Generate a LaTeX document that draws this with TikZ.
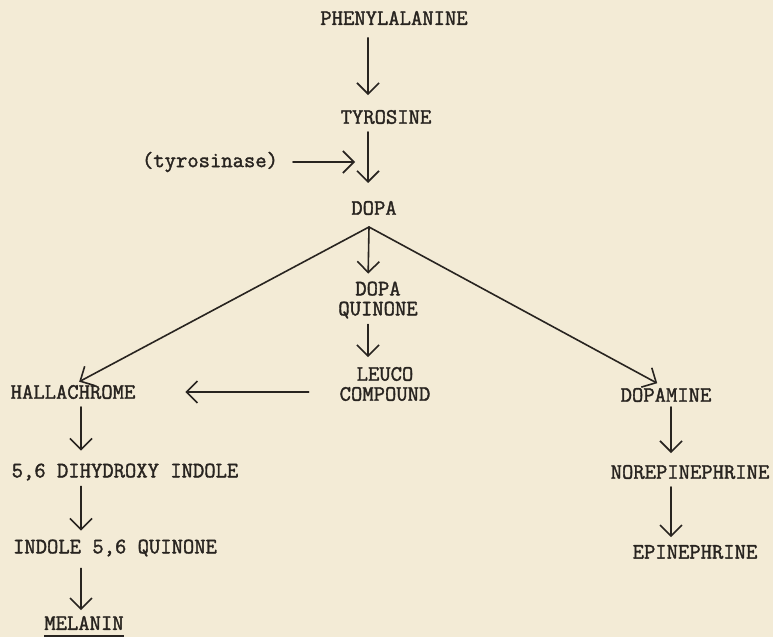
\documentclass[tikz,border=0pt]{standalone}
\usepackage{fontspec}
\usepackage{xcolor}
\usetikzlibrary{arrows.meta, positioning}
\newfontfamily\typewriter{Latin Modern Mono}[FakeBold=1.6]
\definecolor{papel}{RGB}{243, 235, 214}
\definecolor{tinta}{RGB}{40, 36, 32}
\newcommand{\typefont}{\typewriter\fontsize{22}{20}\selectfont}

\begin{document}
\begin{tikzpicture}[x=1pt, y=-1pt,
  chem/.style={font=\typefont, text=tinta, inner sep=0pt, outer sep=0pt, align=center},
  flow/.style={-{Straight Barb[length=11pt, width=22pt]}, draw=tinta, line width=1.6pt,
               line cap=round, shorten <=8pt, shorten >=10pt}]
  \fill[papel] (0,0) rectangle (773,637);
  \useasboundingbox (0,0) rectangle (773,637);

  % main chain
  \node[chem] (phe) at (394,18) {PHENYLALANINE};
  \node[chem] (tyr) at (386,117) {TYROSINE};
  \node[chem] (enz) at (210,162) {(tyrosinase)};
  \node[chem] (dopa) at (374,208) {DOPA};
  \node[chem] (dq) at (378,300) {DOPA\\QUINONE};
  \node[chem] (leuco) at (385,384) {LEUCO\\COMPOUND};

  % melanin branch
  \node[chem] (hall) at (73,392) {HALLACHROME};
  \node[chem] (dhi) at (125,472) {5,6 DIHYDROXY INDOLE};
  \node[chem] (iq) at (115,548) {INDOLE 5,6 QUINONE};
  \node[chem] (mel) at (84,623) {MELANIN};

  % catecholamine branch
  \node[chem] (da) at (666,395) {DOPAMINE};
  \node[chem] (ne) at (690,472) {NOREPINEPHRINE};
  \node[chem] (epi) at (695,552) {EPINEPHRINE};

  \coordinate (midcol) at (368,0);
  \coordinate (leftcol) at (81,0);
  \coordinate (rightcol) at (671,0);
  \coordinate (fork) at (369,227);

  \draw[flow, shorten <=13pt, shorten >=15pt] (phe.south -| midcol) -- (tyr.north -| midcol);
  \draw[flow, shorten >=18pt] (tyr.south -| midcol) -- (dopa.north -| midcol);
  \draw[flow, shorten <=15pt, shorten >=13pt] (enz.east) -- (enz.east -| midcol);

  \draw[flow, shorten <=0pt, shorten >=7pt] (fork) -- (hall.north);
  \draw[flow, shorten <=0pt, shorten >=8pt] (fork) -- (dq.north -| midcol);
  \draw[flow, shorten <=0pt, shorten >=10pt] (fork) -- (da.north);
  \draw[flow, shorten <=6pt] (dq.south -| midcol) -- (leuco.north -| midcol);
  \draw[flow, shorten <=31pt, shorten >=50pt] (leuco.west |- hall.east) -- (hall.east);

  \draw[flow, shorten >=13pt] (hall.south -| leftcol) -- (dhi.north -| leftcol);
  \draw[flow, shorten <=6pt, shorten >=9pt] (dhi.south -| leftcol) -- (iq.north -| leftcol);
  \draw[flow, shorten <=12pt, shorten >=6pt] (iq.south -| leftcol) -- (mel.north -| leftcol);
  \draw[tinta, line width=1.6pt] ([yshift=-6pt]mel.south west) -- ([yshift=-6pt]mel.south east);

  \draw[flow, shorten <=5pt, shorten >=12pt] (da.south -| rightcol) -- (ne.north -| rightcol);
  \draw[flow, shorten >=8pt] (ne.south -| rightcol) -- (epi.north -| rightcol);
\end{tikzpicture}
\end{document}
